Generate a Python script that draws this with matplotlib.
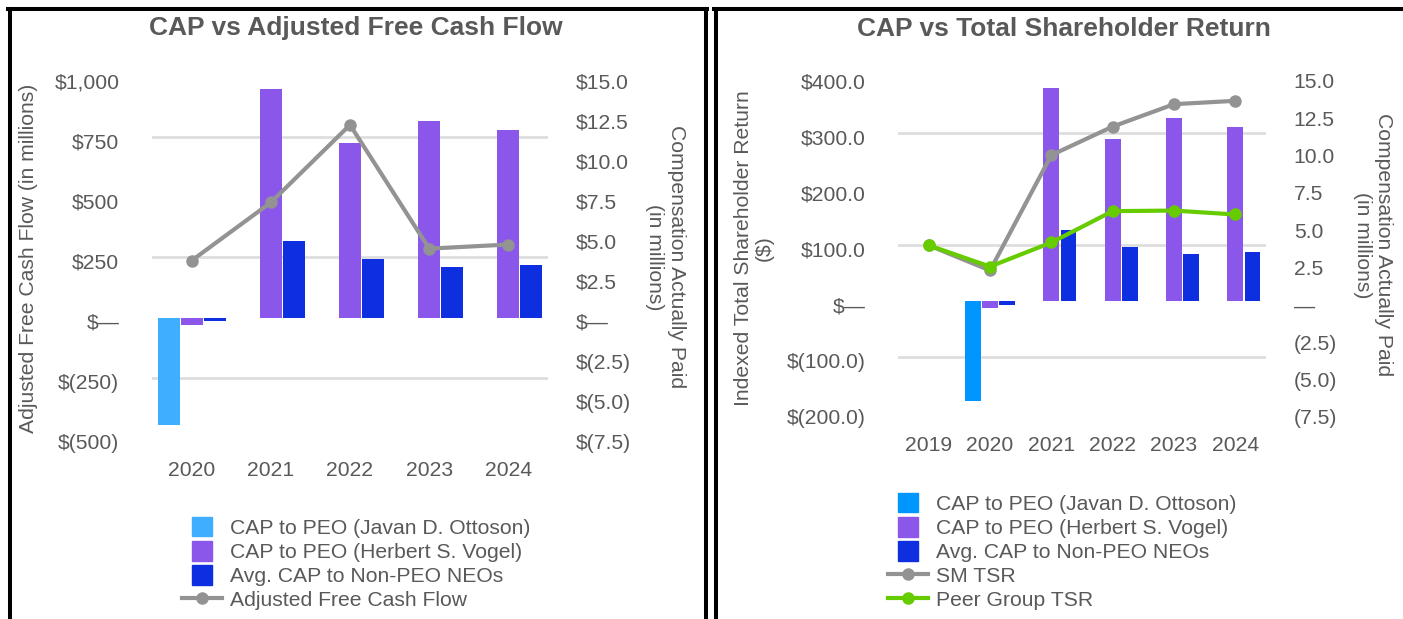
import numpy as np
import matplotlib
matplotlib.use("Agg")
import matplotlib.pyplot as plt
import matplotlib.patches as mpatches
import matplotlib.transforms as mtransforms
from matplotlib.lines import Line2D
from matplotlib.legend_handler import HandlerPatch

plt.rcParams['font.family'] = ['Liberation Sans', 'DejaVu Sans']

# ---- data ----
years_fcf = ['2020', '2021', '2022', '2023', '2024']
years_tsr = ['2019', '2020', '2021', '2022', '2023', '2024']

# compensation actually paid, $ millions (2020-2024)
cap_ottoson = [-6.7, np.nan, np.nan, np.nan, np.nan]
cap_vogel = [-0.48, 14.25, 10.9, 12.25, 11.7]
cap_neo = [-0.22, 4.8, 3.65, 3.15, 3.27]

# adjusted free cash flow, $ millions
adj_fcf = [237, 479, 802, 287, 304]

# indexed TSR (2019 = 100)
sm_tsr = [100, 55, 261, 312, 352, 358]
peer_tsr = [100, 62, 105, 161, 162, 155]

fcf_ticks = [1000, 750, 500, 250, 0, -250, -500]
fcf_labels = ['$1,000', '$750', '$500', '$250', '$\u2014', '$(250)', '$(500)']
cap_ticks = [15, 12.5, 10, 7.5, 5, 2.5, 0, -2.5, -5, -7.5]
cap_labels_fcf = ['$15.0', '$12.5', '$10.0', '$7.5', '$5.0', '$2.5', '$\u2014',
                  '$(2.5)', '$(5.0)', '$(7.5)']
cap_labels_tsr = ['15.0', '12.5', '10.0', '7.5', '5.0', '2.5', '\u2014',
                  '(2.5)', '(5.0)', '(7.5)']
tsr_ticks = [400, 300, 200, 100, 0, -100, -200]
tsr_labels = ['$400.0', '$300.0', '$200.0', '$100.0', '$\u2014', '$(100.0)', '$(200.0)']

names = ['CAP to PEO (Javan D. Ottoson)', 'CAP to PEO (Herbert S. Vogel)',
         'Avg. CAP to Non-PEO NEOs']

# ---- style ----
TXT = '#595959'
GRID = '#dedede'
VOGEL = '#8b57ea'
NEO = '#0e2fe0'
GRAY = '#939393'
GREEN = '#66cc00'
FS = 15.2

W, H = 1403, 619
fig = plt.figure(figsize=(W / 100, H / 100), dpi=100)
label_shift = mtransforms.ScaledTranslation(0, -3.5 / 100, fig.dpi_scale_trans)


def rect(x0, y0, x1, y1):
    # pixel box (top-left origin) -> figure fraction
    return [x0 / W, 1 - y1 / H, (x1 - x0) / W, (y1 - y0) / H]


def fx(x):
    return x / W


def fy(y):
    return 1 - y / H


def make_panel(box, left_lim, left_ticks, left_labels, right_labels, n, xlabels,
               offs, width, ottoson_color, bar_data, lpad, rpad):
    ax = fig.add_axes(box)
    axb = ax.twinx()
    ax.set_zorder(axb.get_zorder() + 1)
    ax.patch.set_visible(False)

    ax.set_ylim(left_lim[1], left_lim[0])
    axb.set_ylim(-7.5, 15)
    ratio = (left_lim[0] - left_lim[1]) / 22.5
    ax.set_xlim(-0.5, n - 0.5)

    x = np.arange(n)
    for vals, off, col in zip(bar_data, offs, [ottoson_color, VOGEL, NEO]):
        axb.bar(x + off, vals, width=width, color=col, edgecolor='none', zorder=2)

    # gridlines sit on the bar axes so bars cover them
    axb.set_yticks(np.array(left_ticks) / ratio, minor=True)
    axb.grid(which='minor', axis='y', color=GRID, lw=2, zorder=0)
    axb.set_axisbelow(True)

    ax.set_yticks(left_ticks)
    ax.set_yticklabels(left_labels)
    axb.set_yticks(cap_ticks)
    axb.set_yticklabels(right_labels)
    ax.set_xticks(x)
    ax.set_xticklabels(xlabels)

    for a in (ax, axb):
        for s in a.spines.values():
            s.set_visible(False)
        a.tick_params(which='both', length=0, labelsize=FS, labelcolor=TXT)
    ax.tick_params(axis='y', pad=lpad)
    axb.tick_params(axis='y', pad=rpad)
    ax.tick_params(axis='x', pad=16.5)

    for t in ax.get_yticklabels() + axb.get_yticklabels():
        t.set_transform(t.get_transform() + label_shift)
    return ax, axb


def narrow_patch(legend, orig_handle, xdescent, ydescent, width, height, fontsize):
    w = height * 1.05
    return mpatches.Rectangle((width / 2 - w / 2 - xdescent, -ydescent), w, height)


legend_kw = dict(loc='upper left', bbox_transform=fig.transFigure, frameon=False,
                 fontsize=FS, labelcolor=TXT, borderpad=0, borderaxespad=0,
                 handlelength=1.9, handleheight=1.04, handletextpad=0.38,
                 labelspacing=0.15, numpoints=1,
                 handler_map={mpatches.Patch: HandlerPatch(patch_func=narrow_patch)})

# ---------- left panel: CAP vs Adjusted Free Cash Flow ----------
ax1, ax1b = make_panel(rect(152, 77.3, 548, 437.7), (1000, -500), fcf_ticks, fcf_labels,
                       cap_labels_fcf, 5, years_fcf, (-0.29, 0, 0.29), 0.277, '#40aeff',
                       [cap_ottoson, cap_vogel, cap_neo], 23.5, 20)
ax1.plot(np.arange(5), adj_fcf, color=GRAY, lw=3, marker='o', ms=8, zorder=5)

fig.text(fx(356), fy(28.5), 'CAP vs Adjusted Free Cash Flow', ha='center', va='center',
         fontsize=19, fontweight='bold', color=TXT)
fig.text(fx(29), fy(258), 'Adjusted Free Cash Flow (in millions)', rotation=90,
         ha='center', va='center', fontsize=FS, color=TXT)
fig.text(fx(665.5), fy(257), 'Compensation Actually Paid\n(in millions)', rotation=270,
         ha='center', va='center', fontsize=FS, color=TXT, linespacing=1.15,
         multialignment='center')

h1 = [mpatches.Patch(color='#40aeff'), mpatches.Patch(color=VOGEL), mpatches.Patch(color=NEO),
      Line2D([], [], color=GRAY, lw=3, marker='o', ms=8)]
fig.legend(h1, names + ['Adjusted Free Cash Flow'],
           bbox_to_anchor=(fx(182), fy(517)), **legend_kw)

# ---------- right panel: CAP vs Total Shareholder Return ----------
pad_nan = [np.nan]
ax2, ax2b = make_panel(rect(898, 77.3, 1266, 413.3), (400, -200), tsr_ticks, tsr_labels,
                       cap_labels_tsr, 6, years_tsr, (-0.28, 0, 0.28), 0.26, '#0096ff',
                       [pad_nan + cap_ottoson, pad_nan + cap_vogel, pad_nan + cap_neo],
                       23.5, 20)
ax2.plot(np.arange(6), sm_tsr, color=GRAY, lw=3, marker='o', ms=8, zorder=5)
ax2.plot(np.arange(6), peer_tsr, color=GREEN, lw=3, marker='o', ms=8, zorder=6)

fig.text(fx(1063.5), fy(29), 'CAP vs Total Shareholder Return', ha='center', va='center',
         fontsize=19, fontweight='bold', color=TXT)
fig.text(fx(754), fy(248), 'Indexed Total Shareholder Return\n($)', rotation=90,
         ha='center', va='center', fontsize=FS, color=TXT, linespacing=1.15,
         multialignment='center')
fig.text(fx(1373), fy(245), 'Compensation Actually Paid\n(in millions)', rotation=270,
         ha='center', va='center', fontsize=FS, color=TXT, linespacing=1.15,
         multialignment='center')

h2 = [mpatches.Patch(color='#0096ff'), mpatches.Patch(color=VOGEL), mpatches.Patch(color=NEO),
      Line2D([], [], color=GRAY, lw=3, marker='o', ms=8),
      Line2D([], [], color=GREEN, lw=3, marker='o', ms=8)]
fig.legend(h2, names + ['SM TSR', 'Peer Group TSR'],
           bbox_to_anchor=(fx(888), fy(493)), **legend_kw)

# ---------- panel frames ----------
lw = 2.9
for xs, ys in [((fx(9.5), fx(9.5)), (fy(8.5), 0)),
               ((fx(8), fx(707)), (fy(8.5), fy(8.5))),
               ((fx(705.5), fx(705.5)), (fy(8.5), 0)),
               ((fx(715.5), fx(715.5)), (fy(8.5), 0)),
               ((fx(714), 1), (fy(8.5), fy(8.5)))]:
    fig.add_artist(Line2D(xs, ys, color='black', lw=lw, transform=fig.transFigure))

fig.savefig('out.png', dpi=100, facecolor='white')
